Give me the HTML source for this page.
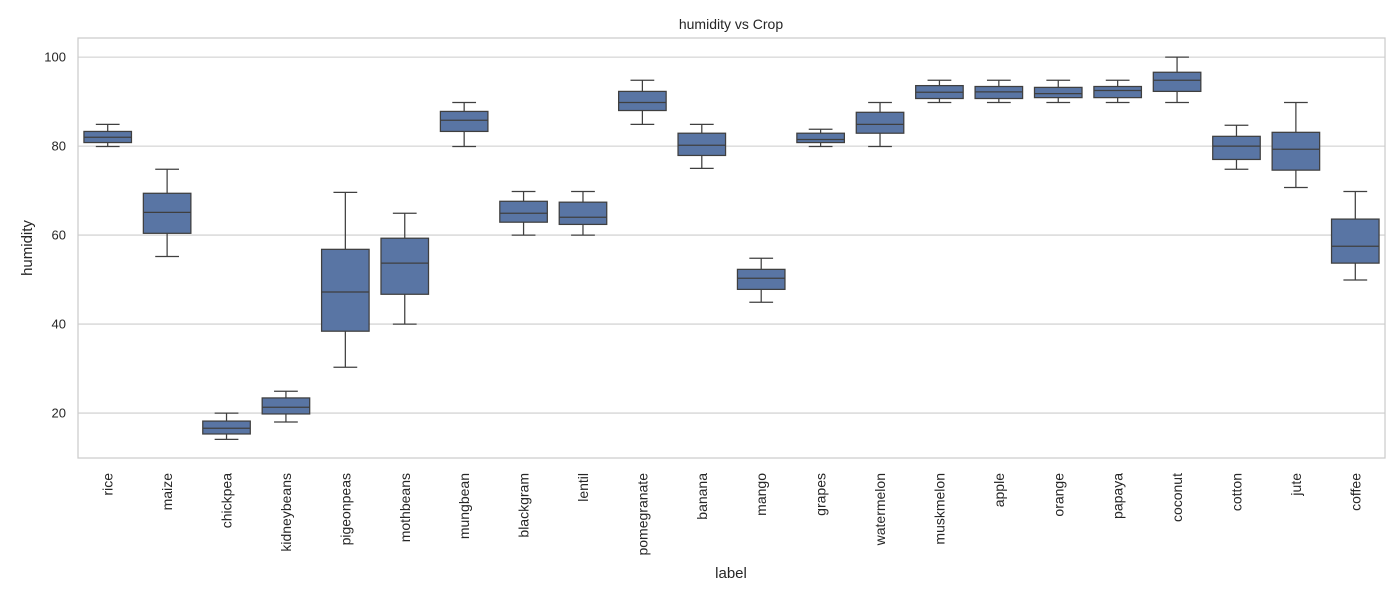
<!DOCTYPE html>
<html><head><meta charset="utf-8"><style>
body{margin:0;background:#fff;}
svg{display:block;font-family:"Liberation Sans",Arial,sans-serif;}
</style></head><body>
<svg id="chart" width="1400" height="600" viewBox="0 0 1400 600" xmlns="http://www.w3.org/2000/svg">
<rect x="0" y="0" width="1400" height="600" fill="#fff"/>
<text x="731" y="29" text-anchor="middle" font-size="14" fill="#262626">humidity vs Crop</text>
<g id="grid"></g>
<g id="boxes"></g>
<rect x="78" y="38" width="1307" height="420" fill="none" stroke="#cccccc" stroke-width="1.25"/>
<g id="yticks"></g>
<g id="xticks"></g>
<text x="0" y="0" transform="translate(32,248) rotate(-90)" text-anchor="middle" font-size="15" fill="#262626">humidity</text>
<text x="731" y="578" text-anchor="middle" font-size="15" fill="#262626">label</text>
</svg>
<script>
const categories=["rice","maize","chickpea","kidneybeans","pigeonpeas","mothbeans","mungbean","blackgram","lentil","pomegranate","banana","mango","grapes","watermelon","muskmelon","apple","orange","papaya","coconut","cotton","jute","coffee"];
const whiskerLow=[79.9,55.2,14.1,18.0,30.3,40.0,79.9,60.0,60.0,84.9,75.0,44.9,79.9,79.9,89.8,89.8,89.8,89.8,89.8,74.8,70.7,49.9];
const q1=[80.8,60.4,15.3,19.8,38.4,46.7,83.3,62.9,62.4,88.0,77.9,47.8,80.8,82.9,90.7,90.7,90.9,90.9,92.3,77.0,74.6,53.7];
const medians=[82.0,65.1,16.6,21.3,47.2,53.7,85.8,64.9,64.0,89.8,80.2,50.3,81.5,84.9,92.1,92.2,91.8,92.5,94.8,80.0,79.3,57.5];
const q3=[83.3,69.4,18.2,23.4,56.8,59.3,87.8,67.6,67.4,92.3,82.9,52.3,82.9,87.6,93.6,93.4,93.2,93.4,96.6,82.2,83.1,63.6];
const whiskerHigh=[84.9,74.8,20.0,24.9,69.6,64.9,89.8,69.8,69.8,94.8,84.9,54.8,83.8,89.8,94.8,94.8,94.8,94.8,100.0,84.7,89.8,69.8];
const yTicks=[20,40,60,80,100];

const NS="http://www.w3.org/2000/svg";
const plotL=78,plotR=1385,plotT=38,plotB=458;
const yMin=9.9,yMax=104.3;
function yScale(v){return plotB-(v-yMin)/(yMax-yMin)*(plotB-plotT);}
const band=(plotR-plotL)/categories.length;
function xc(i){return plotL+band*(i+0.5);}
function mk(tag,attrs,parent){const e=document.createElementNS(NS,tag);for(const k in attrs)e.setAttribute(k,attrs[k]);parent.appendChild(e);return e;}
const grid=document.getElementById('grid'),yt=document.getElementById('yticks'),xt=document.getElementById('xticks'),bx=document.getElementById('boxes');
yTicks.forEach(t=>{
  const l=mk('line',{x1:plotL,x2:plotR,y1:yScale(t),y2:yScale(t),stroke:'#cccccc','stroke-width':1.1},grid);
  
  
  const tx=mk('text',{x:plotL-12,y:yScale(t)+4.5,'text-anchor':'end','font-size':13,fill:'#262626'},yt);
  tx.textContent=t;
  
  
});
const bw=band*0.8,cap=bw*0.5,lc='#3f3f3f';
categories.forEach((c,i)=>{
  const x=xc(i);
  const g=mk('g',{},bx);
  
  
  mk('line',{x1:x,x2:x,y1:yScale(whiskerHigh[i]),y2:yScale(q3[i]),stroke:lc,'stroke-width':1.25},g);
  mk('line',{x1:x,x2:x,y1:yScale(q1[i]),y2:yScale(whiskerLow[i]),stroke:lc,'stroke-width':1.25},g);
  mk('line',{x1:x-cap/2,x2:x+cap/2,y1:yScale(whiskerHigh[i]),y2:yScale(whiskerHigh[i]),stroke:lc,'stroke-width':1.25},g);
  mk('line',{x1:x-cap/2,x2:x+cap/2,y1:yScale(whiskerLow[i]),y2:yScale(whiskerLow[i]),stroke:lc,'stroke-width':1.25},g);
  mk('rect',{x:x-bw/2,y:yScale(q3[i]),width:bw,height:yScale(q1[i])-yScale(q3[i]),fill:'#5975a4',stroke:lc,'stroke-width':1.25},g);
  mk('line',{x1:x-bw/2,x2:x+bw/2,y1:yScale(medians[i]),y2:yScale(medians[i]),stroke:lc,'stroke-width':1.25},g);
  const tx=mk('text',{x:0,y:0,transform:'translate('+(x+5)+','+(plotB+15)+') rotate(-90)','text-anchor':'end','font-size':14,fill:'#262626'},xt);
  tx.textContent=c;
  
  
});
</script>
</body></html>
